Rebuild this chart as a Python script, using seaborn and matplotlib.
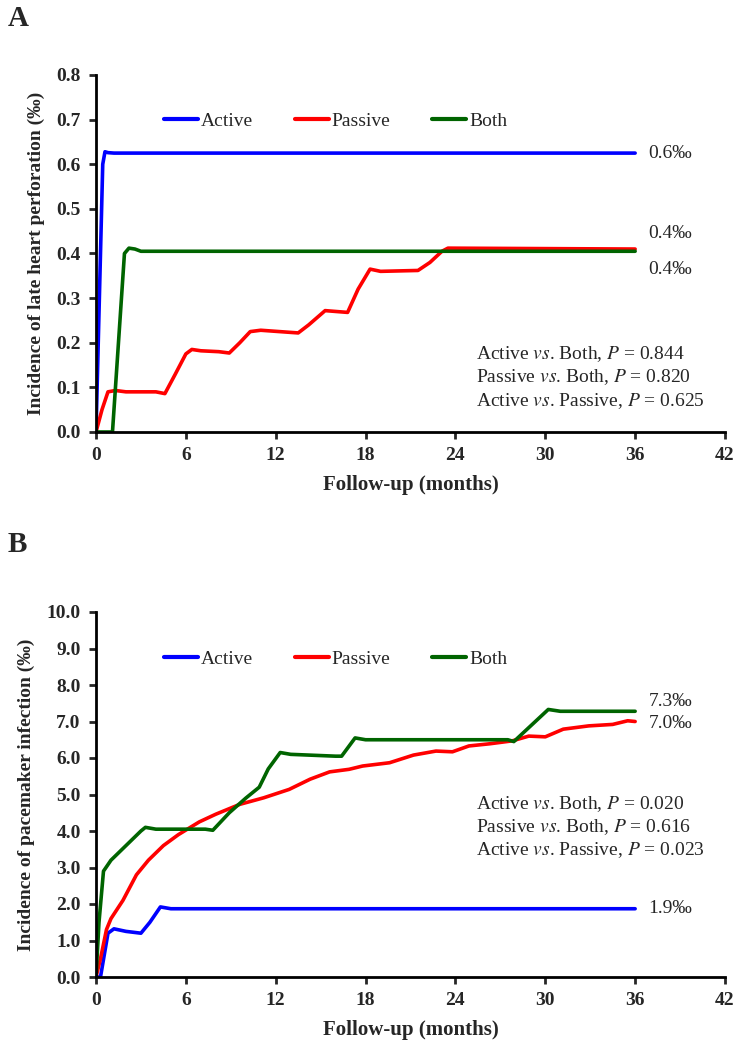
import numpy as np
import pandas as pd
import matplotlib
matplotlib.use('Agg')
import matplotlib.pyplot as plt
import seaborn as sns

# Panel A: late heart perforation (per mille)
a_active_x = [0, 0.45, 0.6, 0.8, 1.2, 36]
a_active_y = [0, 0.6, 0.628, 0.626, 0.625, 0.625]
a_passive_x = [0, 0.4, 0.8, 1.3, 2, 4, 4.6, 5.3, 6.0, 6.4, 7, 8.2, 8.9, 9.6, 10.3, 11, 13.5, 14.2,
               15.3, 16.8, 17.5, 18.3, 19, 21.5, 22.3, 23.1, 23.5, 36]
a_passive_y = [0, 0.05, 0.09, 0.093, 0.09, 0.09, 0.086, 0.13, 0.175, 0.185, 0.182, 0.18, 0.177,
               0.2, 0.225, 0.228, 0.222, 0.24, 0.272, 0.268, 0.32, 0.365, 0.36, 0.362, 0.38, 0.405,
               0.412, 0.41]
a_both_x = [0, 1.1, 1.9, 2.2, 2.6, 3, 36]
a_both_y = [0, 0, 0.4, 0.412, 0.41, 0.405, 0.405]

# Panel B: pacemaker infection (per mille)
b_active_x = [0, 0.3, 0.8, 1.2, 2.0, 3.0, 3.6, 4.3, 5, 36]
b_active_y = [0, 0, 1.2, 1.32, 1.25, 1.2, 1.5, 1.92, 1.87, 1.87]
b_passive_x = [0, 0.3, 0.7, 1.0, 1.8, 2.7, 3.5, 4.5, 5.5, 6.9, 8.0, 9.6, 11.2, 12.9, 14.3, 15.6,
               16.9, 17.8, 19.6, 21.2, 22.7, 23.8, 24.9, 26.3, 27.8, 28.9, 30.0, 31.2, 32.9, 34.5,
               35.5, 36]
b_passive_y = [0, 0.5, 1.3, 1.6, 2.1, 2.8, 3.2, 3.6, 3.9, 4.25, 4.46, 4.73, 4.91, 5.14, 5.42, 5.62,
               5.69, 5.78, 5.87, 6.08, 6.19, 6.17, 6.33, 6.39, 6.47, 6.6, 6.58, 6.79, 6.88, 6.92,
               7.02, 7.0]
b_both_x = [0, 0.2, 0.5, 1, 2, 3, 3.3, 4, 7.3, 7.8, 8.9, 10, 10.9, 11.5, 12.3, 13, 16.0, 16.4, 17.3,
            18, 27.5, 27.9, 30.2, 31, 36]
b_both_y = [0, 1.5, 2.9, 3.2, 3.6, 4.0, 4.1, 4.05, 4.05, 4.02, 4.5, 4.9, 5.2, 5.7, 6.15, 6.1, 6.05,
            6.05, 6.55, 6.5, 6.5, 6.45, 7.33, 7.28, 7.28]

groups = ['Active', 'Passive', 'Both']
colors = {'Active': '#0000FF', 'Passive': '#FF0000', 'Both': '#006400'}


def make_df(xs, ys):
    rows = []
    for g, x, y in zip(groups, xs, ys):
        rows.append(pd.DataFrame({'month': x, 'value': y, 'group': g}))
    return pd.concat(rows, ignore_index=True)


df_a = make_df([a_active_x, a_passive_x, a_both_x], [a_active_y, a_passive_y, a_both_y])
df_b = make_df([b_active_x, b_passive_x, b_both_x], [b_active_y, b_passive_y, b_both_y])

sns.set_style('ticks')
plt.rcParams['font.family'] = ['Liberation Serif', 'DejaVu Serif']
plt.rcParams['mathtext.fontset'] = 'stix'

fig = plt.figure(figsize=(7.36, 10.44), dpi=100)
W, H = 736, 1044
axA = fig.add_axes([96 / W, 1 - 432 / H, 629 / W, (432 - 75) / H])
axB = fig.add_axes([96 / W, 1 - 977 / H, 629 / W, (977 - 612) / H])


def style_axis(ax, ymax, ystep, ylabel):
    ax.set_xlim(0, 42)
    ax.set_ylim(0, ymax)
    ax.set_xticks(np.arange(0, 43, 6))
    ax.set_yticks(np.arange(0, ymax + ystep / 2, ystep))
    ax.set_yticklabels([f'{v:.1f}' for v in np.arange(0, ymax + ystep / 2, ystep)])
    sns.despine(ax=ax)
    for s in ['left', 'bottom']:
        ax.spines[s].set_linewidth(2)
        ax.spines[s].set_color('black')
    ax.tick_params(direction='out', length=5, width=2, labelsize=14, pad=6)
    for lab in ax.get_xticklabels() + ax.get_yticklabels():
        lab.set_fontweight('bold')
    ax.set_xlabel('Follow-up (months)', fontsize=15, fontweight='bold', labelpad=8)
    ax.set_ylabel(ylabel, fontsize=14, fontweight='bold', labelpad=8)
    leg = ax.legend(ncol=3, loc='center left', bbox_to_anchor=(0.108, 0.87), frameon=False,
                    fontsize=14, handlelength=1.75, handletextpad=0.15, columnspacing=2.15,
                    borderpad=0, borderaxespad=0)
    for line in leg.get_lines():
        line.set_linewidth(3)


sns.lineplot(data=df_a, x='month', y='value', hue='group', palette=colors, hue_order=groups,
             estimator=None, sort=False, linewidth=2.6, ax=axA)
style_axis(axA, 0.8, 0.1, 'Incidence of late heart perforation (‰)')

sns.lineplot(data=df_b, x='month', y='value', hue='group', palette=colors, hue_order=groups,
             estimator=None, sort=False, linewidth=2.6, ax=axB)
style_axis(axB, 10.0, 1.0, 'Incidence of pacemaker infection (‰)')

# end labels
for ax, labs in [(axA, [(0.625, '0.6‰'), (0.445, '0.4‰'), (0.365, '0.4‰')]),
                 (axB, [(7.56, '7.3‰'), (6.95, '7.0‰'), (1.87, '1.9‰')])]:
    for y, t in labs:
        ax.text(36.9, y, t, fontsize=14, va='center', ha='left')

# p-value annotations
p_a = ['0.844', '0.820', '0.625']
p_b = ['0.020', '0.616', '0.023']
comps = [('Active', 'Both'), ('Passive', 'Both'), ('Active', 'Passive')]
for ax, ps, y0, dy in [(axA, p_a, 0.175, 0.0527), (axB, p_b, 4.75, 0.64)]:
    for i, ((g1, g2), p) in enumerate(zip(comps, ps)):
        ax.text(25.4, y0 - i * dy, f'{g1} $\\mathit{{vs}}$. {g2}, $\\mathit{{P}}$ = {p}',
                fontsize=14, va='center', ha='left')

fig.text(8 / W, 1 - 18 / H, 'A', fontsize=21, fontweight='bold', va='center', ha='left')
fig.text(8 / W, 1 - 545 / H, 'B', fontsize=21, fontweight='bold', va='center', ha='left')

fig.savefig('out.png', dpi=100)
